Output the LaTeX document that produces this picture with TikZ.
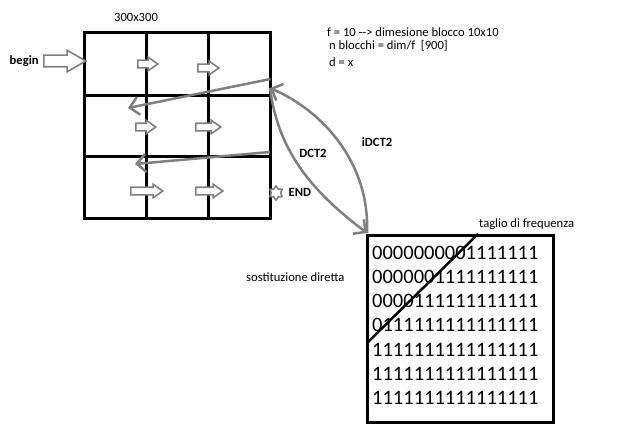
\documentclass[tikz,border=0pt]{standalone}
\usepackage{fontspec}
\setmainfont{Carlito}
\usetikzlibrary{arrows.meta,shapes.arrows,shapes.geometric}
\definecolor{arrgray}{RGB}{127,127,127}
\tikzset{
	small/.style={font=\fontsize{12.6}{14}\selectfont, inner sep=0pt},
	smallbold/.style={font=\fontsize{12.6}{14}\selectfont\bfseries, inner sep=0pt},
	blockarrow/.style={single arrow, draw=arrgray, fill=white, line width=1.6pt, inner sep=3pt, single arrow head extend=3pt, single arrow tip angle=70, anchor=tail},
	linearrow/.style={draw=arrgray, line width=2.5pt, -{Straight Barb[length=9pt,width=18pt,line width=2.5pt]}},
	thickline/.style={line width=3pt}
}
\begin{document}
\begin{tikzpicture}[x=1pt,y=-1pt]
	\useasboundingbox (0,0) rectangle (624,428);
	
	%grid
	\draw[thickline] (84,33) rectangle (270.5,218);
	\draw[thickline] (146,33)--(146,218); \draw[thickline] (208,33)--(208,218);
	\draw[thickline] (84,95)--(270.5,95); \draw[thickline] (84,156.5)--(270.5,156.5);
	\node[small] (size) at (136,17) {300x300};
	
	%begin
	\node[smallbold, anchor=west] (begin) at (9.5,61) {begin};
	\node[blockarrow, inner sep=5pt, single arrow head extend=5pt, single arrow tip angle=60, minimum height=42pt] (beginarrow) at (43,61) {};
	
	%block arrows
	\node[blockarrow, minimum height=20pt] (a11) at (137,64) {};
	\node[blockarrow, minimum height=21pt] (a12) at (197,68) {};
	\node[blockarrow, minimum height=20pt] (a21) at (135,127) {};
	\node[blockarrow, minimum height=25pt] (a22) at (195,127) {};
	\node[blockarrow, minimum height=32pt] (a31) at (130,191) {};
	\node[blockarrow, minimum height=27pt] (a32) at (195,191) {};
	
	%row return
	\coordinate (r1) at (270.5,79); \coordinate (l1) at (128,108);
	\coordinate (r2) at (270,152); \coordinate (l2) at (135,164);
	\draw[linearrow] (r1)--(l1);
	\draw[linearrow] (r2)--(l2);
	
	%end
	\node[star, star points=6, draw=arrgray, fill=white, line width=1.6pt, minimum size=14pt, inner sep=0pt] (star) at (276,193) {};
	\node[smallbold, anchor=west] (end) at (288.5,192) {END};
	
	%notes
	\node[small, anchor=west] (note1) at (327,32) {f = 10 -{}-> dimesione blocco 10x10};
	\node[small, anchor=west] (note2) at (329,45.5) {n blocchi = dim/f\ \ [900]};
	\node[small, anchor=west] (note3) at (329,62) {d = x};
	
	%transform
	\coordinate (gridR) at (270,88);
	\coordinate (boxTL) at (367,233);
	\draw[linearrow] (gridR) .. controls (278,150) and (310,190) .. (boxTL);
	\draw[linearrow] (boxTL) .. controls (370,165) and (325,112) .. (gridR);
	\node[smallbold] (dct) at (313,153) {DCT2};
	\node[smallbold] (idct) at (377,142) {iDCT2};
	
	%block
	\draw[thickline] (367,235) rectangle (553,422);
	\node[inner sep=0pt, anchor=north west, align=left, font=\fontsize{20.5}{24.3}\selectfont] (bits) at (372,245.5) {0000000001111111\\0000001111111111\\0000111111111111\\0111111111111111\\1111111111111111\\1111111111111111\\1111111111111111};
	\coordinate (cutT) at (478,234); \coordinate (cutB) at (368,342);
	\draw[line width=2.5pt] (cutT)--(cutB);
	\node[small, anchor=west] (cut) at (479,224) {taglio di frequenza};
	\node[small, anchor=west] (subst) at (246,277) {sostituzione diretta};
\end{tikzpicture}
\end{document}
